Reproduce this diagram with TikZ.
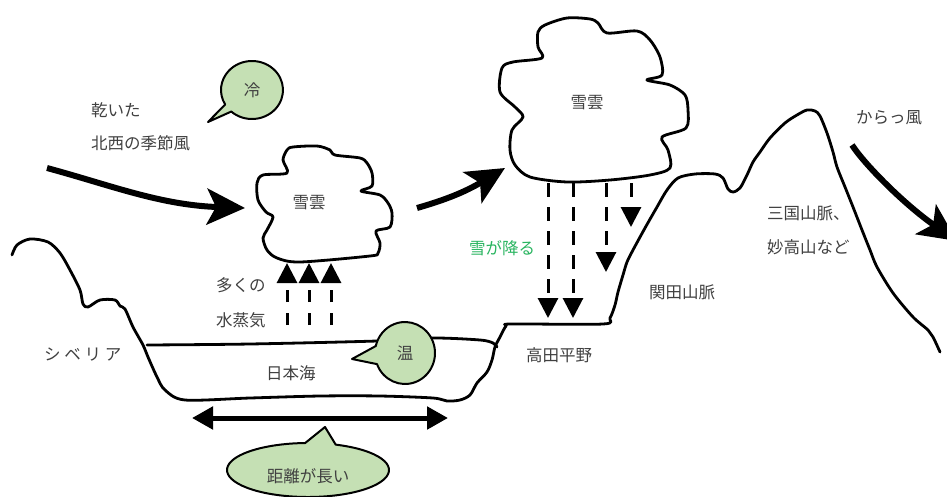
\documentclass[tikz,border=0pt]{standalone}
\usepackage{fontspec}
\setmainfont{Noto Sans CJK JP}
\usetikzlibrary{arrows.meta,calc}
\definecolor{bubblegreen}{RGB}{197,224,180}
\definecolor{snowgreen}{RGB}{40,180,95}
\definecolor{inkgray}{RGB}{64,64,64}

\begin{document}
\begin{tikzpicture}[x=1pt,y=-1pt,
    lbl/.style = {inner sep=0pt, text=inkgray, font=\fontsize{16.5}{20}\selectfont},
    land/.style = {line width=2.8pt, line join=round, line cap=round},
    wind/.style = {line width=6pt, -{Stealth[length=38pt,width=36pt,inset=9pt]}},
    steam/.style = {line width=3pt, dash pattern=on 12pt off 11pt, -{Triangle[length=20pt,width=20pt]}},
    snowfall/.style = {line width=3pt, dash pattern=on 14pt off 10pt, -{Triangle[length=20pt,width=20pt]}},
    bubble/.style = {fill=bubblegreen, draw=black, line width=2pt, line join=round}]
    \useasboundingbox (0,0) rectangle (947,496);

    % ground, from Siberia over the sea up to the mountains
    \draw[land] plot[smooth, tension=0.5] coordinates {
        (12,255) (17,245) (30,239) (48,242) (60,253) (70,270) (80,290) (83,304)
        (88,307) (100,300) (115,300) (120,306) (125,309) (133,327) (143,345)
        (148,357) (157,377) (165,390) (185,400) (250,398) (320,396) (380,396)
        (433,398) (447,401) (460,400) (470,395) (477,383) (487,372) (492,360)
        (495,347) (500,337) (506,326) (512,324) (603,324) (610,318) (615,305)
        (618,292) (623,275) (627,262) (633,250) (645,228) (657,207) (667,190)
        (678,178) (695,174) (715,174) (723,178) (728,189) (733,192) (740,188)
        (747,175) (753,162) (760,152) (770,138) (785,123) (797,115) (807,110)
        (815,111) (820,116) (827,133) (833,152) (837,167) (845,187) (853,207)
        (862,230) (870,250) (877,267) (893,293) (913,317) (928,330) (933,337)
        (940,352)};
    % sea surface
    \draw[land] plot[smooth, tension=0.5] coordinates {
        (147,345) (250,344) (377,341) (433,338) (480,340) (493,343) (497,347)};

    % clouds
    \draw[land] plot[smooth cycle, tension=0.5] coordinates {
        (283,160) (287,150) (293,147) (317,146) (330,150) (335,155) (360,158)
        (367,163) (372,173) (372,186) (361,191) (380,195) (388,203) (392,213)
        (390,227) (376,231) (380,243) (378,253) (370,256) (300,262) (277,258)
        (267,250) (263,238) (267,230) (273,217) (266,212) (258,200) (257,183)
        (263,175) (287,173)};
    \draw[land] plot[smooth cycle, tension=0.5] coordinates {
        (538,32) (545,25) (567,18) (590,19) (598,23) (607,33) (637,31) (650,40)
        (660,57) (662,75) (647,80) (670,85) (685,95) (688,110) (686,128)
        (662,137) (668,150) (670,168) (650,175) (610,180) (567,182) (530,177)
        (515,165) (510,150) (512,130) (523,117) (515,107) (500,92) (502,68)
        (513,62) (542,58) (538,47)};
    \node[lbl] (cloudW) at (309,203) {雪雲};
    \node[lbl] (cloudE) at (587,103) {雪雲};

    % winds
    \coordinate (windW) at (47,168);
    \coordinate (windWend) at (245,208);
    \coordinate (windE) at (417,208);
    \coordinate (windEend) at (505,168);
    \coordinate (dryW) at (852,145);
    \coordinate (dryWend) at (957,241);
    \draw[wind] (windW) .. controls (110,185) and (160,205) .. (windWend);
    \draw[wind] (windE) .. controls (445,200) and (465,192) .. (windEend);
    \draw[wind] (dryW) .. controls (865,165) and (905,205) .. (dryWend);

    % vapour rising from the sea
    \coordinate (v1) at (287,325); \coordinate (v1t) at (287,263);
    \coordinate (v2) at (309,325); \coordinate (v2t) at (309,263);
    \coordinate (v3) at (331,325); \coordinate (v3t) at (331,263);
    \draw[steam] (v1) -- (v1t);
    \draw[steam] (v2) -- (v2t);
    \draw[steam] (v3) -- (v3t);

    % snow falling on the plain
    \coordinate (s1) at (548,183); \coordinate (s1b) at (548,318);
    \coordinate (s2) at (573,183); \coordinate (s2b) at (573,318);
    \coordinate (s3) at (606,183); \coordinate (s3b) at (606,272);
    \coordinate (s4) at (631,183); \coordinate (s4b) at (631,227);
    \draw[snowfall] (s1) -- (s1b);
    \draw[snowfall] (s2) -- (s2b);
    \draw[snowfall] (s3) -- (s3b);
    \draw[snowfall] (s4) -- (s4b);

    % width of the sea
    \coordinate (seaL) at (192,418);
    \coordinate (seaR) at (448,418);
    \draw[line width=5pt, {Triangle[length=21pt,width=22pt]}-{Triangle[length=21pt,width=22pt]}] (seaL) -- (seaR);

    % bubbles
    \coordinate (coldtip) at (208,122);
    \filldraw[bubble] ($(252,90)+(150:31 and 29)$) -- (coldtip)
        -- ($(252,90)+(132:31 and 29)$) arc[start angle=132, end angle=-210, x radius=31, y radius=29] -- cycle;
    \node[lbl] (cold) at (252,90) {冷};

    \coordinate (warmtip) at (352,359);
    \filldraw[bubble] ($(405,353)+(193:30 and 31)$) -- (warmtip)
        -- ($(405,353)+(159:30 and 31)$) arc[start angle=159, end angle=-167, x radius=30, y radius=31] -- cycle;
    \node[lbl] (warm) at (405,353) {温};

    \coordinate (fartip) at (325,427);
    \filldraw[bubble] ($(308,470)+(-92:81 and 27)$) -- (fartip)
        -- ($(308,470)+(-70:81 and 27)$) arc[start angle=-70, end angle=268, x radius=81, y radius=27] -- cycle;
    \node[lbl] (far) at (308,476) {距離が長い};

    % labels
    \node[lbl, anchor=west] (dry1) at (91,110) {乾いた};
    \node[lbl, anchor=west] (dry2) at (91,143) {北西の季節風};
    \node[lbl, anchor=west] (many) at (216,285) {多くの};
    \node[lbl, anchor=west] (vapour) at (216,320) {水蒸気};
    \node[lbl, anchor=west] (siberia) at (44,354) {シ ベ リ ア};
    \node[lbl, anchor=west] (sea) at (266,373) {日本海};
    \node[lbl, anchor=west, text=snowgreen] (snow) at (469,248) {雪が降る};
    \node[lbl, anchor=west] (plain) at (526,355) {高田平野};
    \node[lbl, anchor=west] (sekida) at (649,292) {関田山脈};
    \node[lbl, anchor=west] (mikuni1) at (767,213) {三国山脈、};
    \node[lbl, anchor=west] (mikuni2) at (767,247) {妙高山など};
    \node[lbl, anchor=west] (karakaze) at (856,118) {からっ風};
\end{tikzpicture}
\end{document}
